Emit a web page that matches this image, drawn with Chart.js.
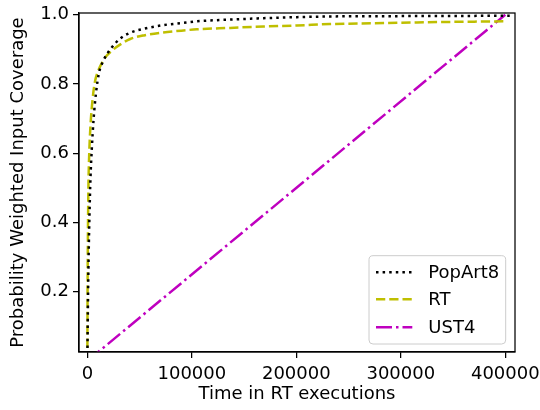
<!DOCTYPE html>
<html>
<head>
<meta charset="utf-8">
<script src="https://cdn.jsdelivr.net/npm/chart.js@4.4.0/dist/chart.umd.min.js"></script>
<style>
  html, body { margin: 0; padding: 0; background: #fff; }
  #wrap { width: 540px; height: 410px; }
</style>
</head>
<body>
<div id="wrap"><canvas id="chart" width="540" height="410"></canvas></div>
<script>
/* global Chart */
const xTicks = [0, 100000, 200000, 300000, 400000];
const yTicks = [0.2, 0.4, 0.6, 0.8, 1.0];

const popArtX = [0, 500, 1200, 2000, 3000, 4200, 6000, 8300, 11000, 15000, 22000, 31000, 41000, 55000, 72700, 90000, 104700, 136600, 168700, 200600, 232000, 300000, 407000];
const popArtY = [0, 0.15, 0.3, 0.42, 0.53, 0.61, 0.7, 0.775, 0.83, 0.865, 0.9, 0.93, 0.948, 0.96, 0.97, 0.976, 0.981, 0.986, 0.99, 0.993, 0.995, 0.996, 0.997];

const rtX = [0, 200, 500, 1000, 1800, 3000, 4200, 5700, 7500, 10000, 13800, 18000, 25000, 32000, 41000, 55000, 72700, 90000, 104700, 136600, 168700, 200600, 232000, 286000, 340000, 401000];
const rtY = [0, 0.2, 0.35, 0.5, 0.6, 0.68, 0.73, 0.775, 0.81, 0.835, 0.86, 0.88, 0.9, 0.915, 0.93, 0.941, 0.949, 0.954, 0.958, 0.962, 0.966, 0.969, 0.973, 0.976, 0.979, 0.981];

const ustX = [0, 400000];
const ustY = [0, 1.0];

const FONT = 'DejaVu Sans';
const FS = 18;

function toPoints(xs, ys) {
  return xs.map((x, i) => ({ x, y: ys[i] }));
}

// Matplotlib-style box round the plot area
const framePlugin = {
  id: 'frame',
  afterDatasetsDraw(chart) {
    const { ctx, chartArea: a } = chart;
    ctx.save();
    ctx.strokeStyle = '#000';
    ctx.lineWidth = 1.25;
    ctx.strokeRect(a.left, a.top, a.right - a.left, a.bottom - a.top);
    ctx.restore();
  },
};

// Legend in the lower right, inside the axes
const legendPlugin = {
  id: 'boxLegend',
  afterDraw(chart) {
    const { ctx, chartArea: a } = chart;
    const w = 136.7, h = 88.3;
    const x0 = a.right - 9.3 - w;
    const y0 = a.bottom - 8 - h;
    ctx.save();
    ctx.beginPath();
    ctx.roundRect(x0, y0, w, h, 4);
    ctx.fillStyle = 'rgba(255,255,255,0.8)';
    ctx.fill();
    ctx.strokeStyle = '#cccccc';
    ctx.lineWidth = 1;
    ctx.stroke();
    const rows = [y0 + 16.6, y0 + 43.6, y0 + 71.6];
    chart.data.datasets.forEach((ds, i) => {
      const y = rows[i];
      ctx.beginPath();
      ctx.setLineDash(ds.borderDash || []);
      ctx.lineDashOffset = 0;
      ctx.strokeStyle = ds.borderColor;
      ctx.lineWidth = ds.borderWidth;
      ctx.lineCap = 'butt';
      ctx.moveTo(x0 + 7, y);
      ctx.lineTo(x0 + 43.3, y);
      ctx.stroke();
      ctx.setLineDash([]);
      ctx.fillStyle = '#000';
      ctx.font = `${FS}px "${FONT}"`;
      ctx.textBaseline = 'middle';
      ctx.textAlign = 'left';
      ctx.fillText(ds.label, x0 + 59.3, y + 1);
    });
    ctx.restore();
  },
};

new Chart(document.getElementById('chart'), {
  type: 'line',
  data: {
    datasets: [
      { label: 'PopArt8', data: toPoints(popArtX, popArtY), borderColor: '#000000', borderWidth: 2.5, borderDash: [2.5, 4.1], borderCapStyle: 'butt' },
      { label: 'RT', data: toPoints(rtX, rtY), borderColor: '#bfbf00', borderWidth: 2.5, borderDash: [9.25, 4] },
      { label: 'UST4', data: toPoints(ustX, ustY), borderColor: '#bf00bf', borderWidth: 2.5, borderDash: [16, 4, 2.5, 4] },
    ],
  },
  options: {
    responsive: false,
    animation: false,
    elements: { point: { radius: 0 }, line: { cubicInterpolationMode: 'monotone', fill: false } },
    layout: { padding: { top: 13, right: 25, left: 0, bottom: 0 } },
    plugins: { legend: { display: false }, tooltip: { enabled: false } },
    scales: {
      x: {
        type: 'linear',
        min: -8000,
        max: 409300,
        afterBuildTicks: (s) => { s.ticks = xTicks.map((v) => ({ value: v })); },
        afterFit: (s) => { s.height = 58; s.paddingLeft = 0; s.paddingRight = 0; },
        ticks: { font: { family: FONT, size: FS }, color: '#000', padding: 6, maxRotation: 0, callback: (v) => String(v) },
        grid: { drawOnChartArea: false, drawTicks: true, tickLength: 6, color: '#000', lineWidth: 1.25 },
        border: { display: true, color: '#000', width: 1.25 },
        title: { display: true, text: 'Time in RT executions', font: { family: FONT, size: FS }, color: '#000', padding: { top: 0, bottom: 5 } },
      },
      y: {
        type: 'linear',
        min: 0.026,
        max: 1.005,
        afterBuildTicks: (s) => { s.ticks = yTicks.map((v) => ({ value: v })); },
        afterFit: (s) => { s.width = 79; s.paddingTop = 0; s.paddingBottom = 0; },
        ticks: { font: { family: FONT, size: FS }, color: '#000', padding: 4, callback: (v) => v.toFixed(1) },
        grid: { drawOnChartArea: false, drawTicks: true, tickLength: 6, color: '#000', lineWidth: 1.25 },
        border: { display: true, color: '#000', width: 1.25 },
        title: { display: true, text: 'Probability Weighted Input Coverage', font: { family: FONT, size: FS }, color: '#000', padding: { top: 8, bottom: 0 } },
      },
    },
  },
  plugins: [framePlugin, legendPlugin],
});
</script>
</body>
</html>
